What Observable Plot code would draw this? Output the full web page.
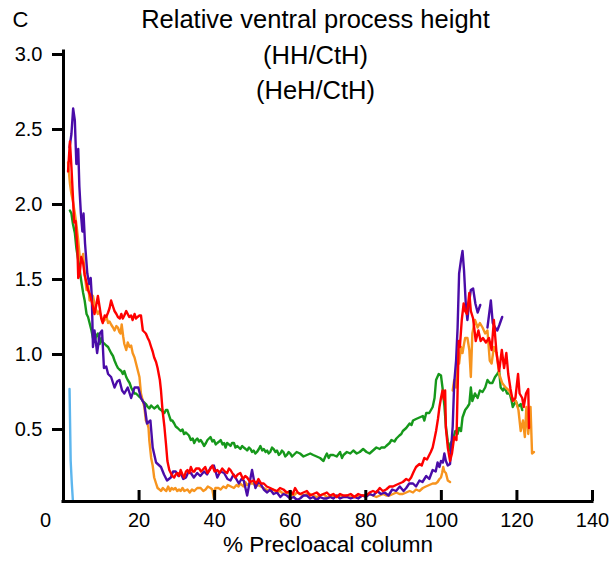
<!DOCTYPE html>
<html><head><meta charset="utf-8">
<script src="https://cdn.jsdelivr.net/npm/d3@7"></script>
<script src="https://cdn.jsdelivr.net/npm/@observablehq/plot@0.6"></script>
<style>body{margin:0;background:#fff}</style>
</head><body><div id="chart"></div>
<script>
const panelLabel = "C";
const titleLines = ["Relative ventral process height", "(HH/CtH)", "(HeH/CtH)"];
const xLabel = "% Precloacal column";
const xTicks = [20, 40, 60, 80, 100, 120, 140];
const xZeroTick = [0];
const yTicks = [0.5, 1.0, 1.5, 2.0, 2.5, 3.0];
const xDomain = [0, 140];
const yDomain = [0, 3];

const blueSeries = [[1.6,0.75],[1.9,0.27],[2.2,0.12],[2.5,0.0]];

const greenSeries = [[1.7,1.94],[2.1,1.92],[2.5,1.85],[3.0,1.79],[3.4,1.69],[3.9,1.61],[4.3,1.54],[4.7,1.47],[5.2,1.39],[5.6,1.34],[6.1,1.25],[6.5,1.23],[6.9,1.19],[7.4,1.14],[7.8,1.09],[8.2,1.07],[8.6,1.1],[9.1,1.12],[9.6,1.05],[10,1.09],[10.4,1.06],[10.9,1.05],[11.3,1.04],[11.8,1.03],[12.2,1.01],[12.6,0.99],[13.1,0.97],[13.5,0.94],[14,0.91],[14.4,0.89],[14.8,0.88],[15.3,0.87],[15.7,0.85],[16.1,0.87],[16.6,0.83],[17,0.81],[17.5,0.79],[17.9,0.76],[18.3,0.74],[18.8,0.72],[19.2,0.72],[19.6,0.71],[20,0.7],[20.5,0.69],[21,0.67],[21.4,0.66],[21.8,0.65],[22.3,0.63],[22.7,0.62],[23.2,0.64],[23.6,0.63],[24,0.62],[24.5,0.63],[24.9,0.64],[25.3,0.62],[25.8,0.61],[26.2,0.6],[26.7,0.59],[27.1,0.61],[27.5,0.61],[28,0.57],[28.4,0.54],[28.8,0.54],[29.3,0.52],[29.7,0.5],[30.2,0.49],[30.6,0.48],[31,0.47],[31.5,0.48],[31.9,0.45],[32.4,0.46],[32.8,0.45],[33.2,0.44],[33.7,0.41],[34.2,0.42],[34.6,0.39],[35,0.41],[35.4,0.42],[35.9,0.4],[36.3,0.41],[36.8,0.39],[37.2,0.37],[37.7,0.39],[38.1,0.41],[38.5,0.42],[38.9,0.43],[39.4,0.4],[39.8,0.41],[40.3,0.38],[40.7,0.39],[41.2,0.4],[41.6,0.41],[42.1,0.38],[42.5,0.39],[42.9,0.36],[43.3,0.39],[43.8,0.38],[44.2,0.37],[44.6,0.39],[45.1,0.39],[45.5,0.36],[46,0.37],[46.4,0.36],[46.8,0.35],[47.3,0.37],[47.7,0.36],[48.2,0.35],[48.6,0.34],[49.1,0.36],[49.5,0.35],[49.9,0.33],[50.3,0.34],[50.8,0.32],[51.2,0.33],[51.7,0.35],[52.1,0.37],[52.6,0.34],[53,0.35],[53.5,0.33],[53.9,0.34],[54.3,0.32],[54.7,0.33],[55.2,0.36],[55.6,0.35],[56.1,0.33],[56.5,0.34],[57,0.31],[57.4,0.32],[57.8,0.34],[58.2,0.33],[58.7,0.3],[59.1,0.31],[59.6,0.33],[60,0.32],[60.5,0.3],[60.9,0.31],[61.7,0.33],[62.6,0.32],[63.5,0.3],[64.4,0.31],[65.3,0.32],[66.1,0.31],[67,0.3],[67.9,0.29],[68.8,0.27],[69.3,0.3],[69.7,0.32],[70.2,0.29],[70.6,0.31],[71.4,0.31],[72.3,0.3],[73.2,0.33],[73.7,0.29],[74.1,0.31],[75,0.33],[75.9,0.32],[76.7,0.34],[77.6,0.32],[78.4,0.33],[79.3,0.35],[80.2,0.33],[81,0.32],[81.9,0.34],[82.8,0.36],[83.7,0.35],[84.1,0.36],[85,0.36],[85.4,0.37],[86.3,0.39],[86.8,0.41],[87.6,0.4],[88.1,0.42],[88.9,0.44],[89.4,0.45],[89.8,0.47],[90.7,0.49],[91.6,0.52],[92.1,0.51],[92.5,0.54],[93.3,0.55],[94.2,0.56],[95.1,0.57],[95.5,0.54],[96,0.59],[96.8,0.59],[97.7,0.63],[98.2,0.69],[98.6,0.81],[99.3,0.85],[99.9,0.84],[100.3,0.76],[100.8,0.64],[101.2,0.5],[101.7,0.4],[102.1,0.34],[102.5,0.39],[103,0.41],[103.7,0.47],[104.3,0.45],[104.7,0.49],[105.2,0.47],[105.6,0.56],[106.3,0.61],[106.9,0.63],[107.4,0.65],[107.8,0.76],[108.2,0.67],[108.9,0.72],[109.6,0.69],[110.2,0.74],[110.9,0.73],[111.6,0.76],[112.2,0.81],[112.8,0.79],[113.5,0.79],[114.2,0.83],[114.8,0.85],[115.3,0.87],[115.7,0.76],[116.3,0.74],[116.8,0.76],[117.4,0.72],[118.1,0.72],[118.6,0.67],[118.9,0.63],[119.7,0.67],[120.3,0.63],[121,0.65],[121.4,0.61]];

const orangeSeries = [[1.2,2.26],[1.7,2.12],[2.1,2.05],[2.5,2.0],[3.0,1.92],[3.4,1.85],[3.9,1.74],[4.3,1.63],[4.7,1.59],[5.2,1.65],[5.6,1.52],[6.1,1.41],[6.5,1.45],[6.9,1.34],[7.4,1.38],[7.8,1.37],[8.2,1.32],[8.6,1.28],[9.1,1.25],[9.5,1.27],[10,1.23],[10.4,1.2],[10.9,1.21],[11.3,1.24],[11.8,1.19],[12.2,1.2],[12.6,1.18],[13.1,1.16],[13.5,1.14],[14,1.17],[14.4,1.16],[14.8,1.13],[15.1,1.12],[15.4,1.18],[15.8,1.1],[16.1,1.05],[16.6,1.01],[17,1.06],[17.5,1.03],[17.9,1.04],[18.3,0.99],[18.8,0.96],[19.2,0.92],[19.5,0.89],[19.8,0.86],[20.1,0.83],[20.5,0.72],[21,0.67],[21.4,0.63],[21.8,0.54],[22.2,0.52],[22.5,0.49],[22.7,0.41],[23.2,0.29],[23.6,0.24],[24,0.16],[24.5,0.12],[24.9,0.09],[25.4,0.08],[25.8,0.07],[26.3,0.09],[26.7,0.08],[27.2,0.07],[27.7,0.1],[28.2,0.07],[28.6,0.09],[29.1,0.08],[29.6,0.09],[30.1,0.07],[30.6,0.08],[31,0.07],[31.5,0.09],[32,0.07],[32.8,0.08],[33.4,0.06],[34,0.08],[34.6,0.07],[35.4,0.09],[36.3,0.09],[37,0.07],[37.6,0.08],[38.2,0.1],[38.9,0.09],[39.4,0.08],[39.8,0.02],[40.2,0.09],[41,0.09],[41.6,0.08],[42.3,0.1],[43,0.09],[43.5,0.11],[44.3,0.1],[45.1,0.09],[45.8,0.11],[46.3,0.1],[46.8,0.12],[47.6,0.1],[48.1,0.13],[48.6,0.11],[49.3,0.12],[50.3,0.12],[50.9,0.1],[51.5,0.11],[52.2,0.1],[53,0.09],[53.7,0.08],[54.7,0.07],[55.5,0.08],[56.5,0.06],[57.3,0.07],[58.2,0.05],[59,0.06],[60,0.05],[60.9,0.04],[61.8,0.06],[62.6,0.05],[63.5,0.04],[64.4,0.05],[65.3,0.05],[66.1,0.04],[67,0.03],[67.9,0.04],[68.8,0.05],[69.7,0.03],[70.5,0.03],[71.4,0.04],[72.3,0.03],[73.2,0.04],[74.1,0.03],[75,0.04],[75.9,0.03],[76.7,0.03],[77.6,0.04],[78.4,0.03],[79.3,0.04],[80.2,0.04],[81,0.05],[81.9,0.04],[82.8,0.03],[83.7,0.04],[84.6,0.05],[85.4,0.04],[86.3,0.04],[87.2,0.05],[88.1,0.06],[88.9,0.05],[89.8,0.05],[90.7,0.06],[91.6,0.07],[92.5,0.06],[93.3,0.08],[94.2,0.07],[95.1,0.09],[95.9,0.1],[96.8,0.11],[97.7,0.12],[98.5,0.12],[99,0.13],[99.5,0.15],[99.9,0.16],[100.2,0.19],[100.5,0.23],[100.8,0.2],[101.2,0.19],[101.7,0.14],[102.3,0.13],[102.6,null],[103,0.74],[103.4,0.81],[103.9,0.76],[104.3,1.01],[104.7,0.92],[105.2,1.03],[105.6,0.99],[106,1.05],[106.3,1.09],[106.9,1.09],[107.4,1.01],[107.8,0.83],[108.2,1.12],[108.9,1.21],[109.6,1.16],[110.2,1.19],[110.9,1.16],[111.6,1.12],[112.2,1.14],[112.8,0.94],[113.3,0.92],[113.9,1.03],[114.6,0.99],[115.3,0.85],[116.1,0.79],[117,0.76],[117.9,0.74],[118.8,0.69],[119.7,0.67],[120.4,0.61],[121,0.47],[121.6,0.54],[122.1,0.43],[122.5,0.63],[123,0.45],[123.6,0.63],[124,0.32],[124.5,0.33]];

const purpleSeries = [[1.6,2.36],[2.1,2.45],[2.55,2.62],[3.0,2.54],[3.4,2.25],[3.9,2.35],[4.2,2.1],[4.6,1.92],[5.0,1.8],[5.3,1.92],[5.7,1.72],[6.3,1.52],[6.8,1.45],[7.2,1.49],[7.5,1.36],[7.8,1.03],[8.2,1.14],[8.9,0.99],[9.6,1.12],[10.2,1.14],[10.7,0.89],[11.3,0.9],[11.8,0.85],[12.6,0.83],[13.5,0.76],[14.2,0.8],[14.8,0.81],[15.5,0.74],[16.1,0.72],[17,0.76],[17.9,0.69],[18.8,0.76],[19.8,0.76],[20.5,0.69],[21.4,0.65],[22.1,0.52],[23,0.54],[23.6,0.36],[24.5,0.26],[25.8,0.23],[26.6,0.18],[27.4,0.14],[28.4,0.16],[29,0.2],[29.7,0.2],[30.4,0.17],[31,0.19],[31.7,0.15],[32.4,0.16],[33.1,0.2],[33.7,0.19],[34.5,0.16],[35.4,0.19],[36.2,0.17],[37.2,0.2],[38,0.18],[39,0.23],[39.8,0.24],[40.7,0.16],[41.5,0.2],[42.5,0.19],[43.4,0.15],[44.2,0.14],[45,0.18],[45.5,0.16],[46.4,0.12],[47.1,0.15],[47.7,0.14],[48.6,0.04],[49.2,0.12],[49.9,0.21],[50.8,0.09],[51.5,0.13],[52.1,0.12],[53,0.08],[53.9,0.06],[54.7,0.08],[55.6,0.05],[56.5,0.06],[57.4,0.03],[58.2,0.05],[59.1,0.04],[60,0.02],[60.9,0.03],[61.8,0.01],[62.6,0.02],[63.5,0.04],[64.4,0.04],[65.3,0.02],[66.1,0.03],[67,0.01],[67.9,0.03],[68.8,0.02],[69.7,0.02],[70.6,0.03],[71.4,0.02],[72.3,0.04],[73.2,0.02],[74.1,0.03],[75,0.03],[76,0.02],[77,0.03],[78,0.02],[79,0.04],[80,0.03],[81,0.05],[82,0.04],[83,0.07],[84,0.05],[85,0.06],[86,0.04],[87,0.08],[88,0.07],[89,0.1],[90,0.07],[90.7,0.09],[91.5,0.12],[92.5,0.12],[93.3,0.1],[94.2,0.14],[95,0.13],[96,0.17],[96.8,0.15],[97.7,0.21],[98.5,0.2],[99,0.26],[99.5,0.23],[99.9,0.27],[100.4,0.26],[100.8,0.32],[101.2,0.27],[101.7,0.24],[102.3,0.25],[103,0.5],[103.4,0.79],[103.9,0.94],[104.3,1.16],[104.7,1.52],[105.2,1.61],[105.6,1.67],[106,1.54],[106.5,1.3],[106.9,1.21],[107.4,1.34],[107.8,1.41],[108.4,1.42],[109,1.32],[109.6,1.26],[110.3,1.31],[110.8,null],[112.2,1.16],[113.1,1.34],[113.6,1.19],[114.2,1.16],[114.8,1.14],[115.4,1.18],[116.1,1.23]];

const redSeries = [[1.2,2.2],[1.7,2.4],[2.1,2.23],[2.5,2.03],[2.8,1.86],[3.2,1.87],[3.7,1.67],[3.9,1.49],[4.3,1.52],[4.7,1.63],[5.2,1.59],[5.6,1.51],[6.0,1.47],[6.5,1.41],[7.0,1.38],[7.4,1.34],[7.8,1.3],[8.2,1.25],[8.6,1.3],[9.1,1.37],[9.6,1.29],[10.0,1.22],[10.4,1.19],[10.9,1.24],[11.3,1.23],[11.8,1.26],[12.2,1.29],[12.6,1.34],[13.1,1.3],[13.5,1.27],[14.0,1.25],[14.4,1.23],[14.9,1.22],[15.3,1.25],[15.7,1.22],[16.1,1.24],[16.6,1.27],[17,1.25],[17.4,1.23],[17.9,1.24],[18.3,1.21],[18.8,1.25],[19.2,1.22],[19.6,1.23],[20.1,1.24],[20.5,1.24],[21,1.14],[21.4,1.13],[21.8,1.12],[22.3,1.09],[22.7,1.07],[23.2,1.03],[23.6,1.0],[24,0.96],[24.5,0.93],[24.9,0.89],[25.5,0.81],[25.8,0.74],[26.2,0.61],[26.7,0.5],[27.1,0.39],[27.5,0.27],[28,0.21],[28.4,0.19],[28.8,0.17],[29.3,0.16],[29.7,0.18],[30.2,0.19],[30.6,0.17],[31,0.21],[31.5,0.18],[31.9,0.16],[32.4,0.2],[32.8,0.21],[33.3,0.19],[33.7,0.23],[34.2,0.2],[34.6,0.2],[35.1,0.22],[35.9,0.22],[36.4,0.2],[36.8,0.21],[37.5,0.23],[38.1,0.19],[38.7,0.21],[39.4,0.24],[40,0.2],[40.7,0.21],[41.3,0.19],[42,0.22],[42.7,0.2],[43.3,0.19],[43.8,0.22],[44.2,0.21],[44.9,0.18],[45.5,0.16],[46.1,0.18],[46.8,0.19],[47.5,0.15],[48.1,0.17],[48.6,0.16],[49.4,0.13],[50.3,0.14],[51,0.12],[51.6,0.15],[52.3,0.12],[53,0.12],[53.8,0.1],[54.7,0.09],[55.5,0.08],[56.5,0.07],[57.3,0.09],[58.2,0.08],[59.1,0.06],[60,0.07],[60.7,0.05],[61.3,0.09],[62,0.06],[62.6,0.05],[63.5,0.06],[64.4,0.07],[65.3,0.04],[66.1,0.05],[67,0.06],[67.9,0.04],[68.8,0.05],[69.7,0.06],[70.5,0.04],[71.4,0.05],[72.3,0.03],[73.2,0.05],[74.1,0.04],[75,0.04],[76,0.05],[77,0.03],[78,0.05],[79,0.04],[80.2,0.04],[81,0.06],[81.9,0.07],[82.8,0.06],[83.7,0.09],[84.5,0.07],[85.4,0.08],[86.3,0.1],[87.2,0.1],[88,0.11],[88.9,0.12],[89.8,0.13],[90.7,0.15],[91.4,0.14],[92,0.16],[92.7,0.2],[93.3,0.23],[94.2,0.25],[94.8,0.24],[95.5,0.29],[96.2,0.28],[96.8,0.31],[97.2,0.33],[97.7,0.36],[98.2,0.42],[98.6,0.47],[99.1,0.55],[99.5,0.63],[99.9,0.69],[100.3,0.74],[100.7,0.68],[101,0.74],[101.2,0.49],[101.7,0.36],[102.3,0.27],[102.8,0.32],[103.4,0.43],[104,0.41],[104.6,1.07],[104.9,1.03],[105.4,1.21],[105.9,1.32],[106.3,1.27],[106.8,1.25],[107.4,1.39],[107.8,1.27],[108.4,1.22],[109.1,1.07],[109.8,1.14],[110.4,1.07],[111,1.09],[111.8,1.06],[112.6,1.09],[113.3,1.01],[113.9,1.21],[114.6,0.99],[115.3,0.87],[116,1.01],[116.6,0.89],[117.2,0.99],[117.7,0.85],[118.3,0.75],[118.9,0.67],[119.6,0.69],[120.3,0.85],[120.7,0.72],[121.4,0.69],[121.8,0.63],[122.4,0.72],[123,0.75],[123.2,0.49]];

const seriesNames = ["series A", "series B", "series C", "series D", "series E"];
const seriesColors = ["#5db6ee", "#16981b", "#f7941e", "#4a0ca8", "#ff0000"];
const seriesData = [blueSeries, greenSeries, orangeSeries, purpleSeries, redSeries];

const rows = seriesData.flatMap((s, i) => s.map(([x, y]) => ({series: seriesNames[i], x, y})));

const W = 613, H = 562;
const mTop = 51, mBottom = 61, mLeft = 63, mRight = 21;
const frameH = H - mTop - mBottom;

const chart = Plot.plot({
  width: W, height: H,
  marginTop: mTop, marginBottom: mBottom, marginLeft: mLeft, marginRight: mRight,
  style: {fontFamily: "'Liberation Sans', Arial, sans-serif", background: "white", color: "black"},
  x: {domain: xDomain},
  y: {domain: yDomain},
  color: {domain: seriesNames, range: seriesColors},
  marks: [
    Plot.line(rows, {x: "x", y: "y", z: "series", stroke: "series", strokeWidth: 2.4, strokeLinejoin: "round"}),
    Plot.ruleX([xDomain[0]], {stroke: "black", strokeWidth: 3, strokeLinecap: "square"}),
    Plot.ruleY([yDomain[0]], {stroke: "black", strokeWidth: 3, strokeLinecap: "square"}),
    Plot.tickX(xTicks, {x: d => d, insetTop: frameH - 11, stroke: "black", strokeWidth: 3}),
    Plot.axisY({ticks: yTicks, tickFormat: d3.format(".1f"), tickSize: 11, tickPadding: 10, strokeWidth: 3, fontSize: 20, dy: 3, label: null}),
    Plot.axisX({ticks: xTicks, tickFormat: d => String(d), tickSize: 0, tickPadding: 11, fontSize: 20, label: null}),
    Plot.axisX({ticks: xZeroTick, tickFormat: d => String(d), tickSize: 0, tickPadding: 11, fontSize: 20, dx: -18, label: null}),
    Plot.text([xLabel], {frameAnchor: "bottom", dy: 50, fontSize: 22.5, fill: "black"}),
    Plot.text([titleLines.join("\n")], {frameAnchor: "top", dx: -12.5, dy: -49, lineAnchor: "top", lineHeight: 1.4, fontSize: 25.5, fill: "black"}),
    Plot.text([panelLabel], {frameAnchor: "top-left", textAnchor: "start", dx: -51, dy: -40, lineAnchor: "top", fontSize: 22, fill: "black"})
  ]
});
document.getElementById("chart").append(chart);
</script>
</body></html>
